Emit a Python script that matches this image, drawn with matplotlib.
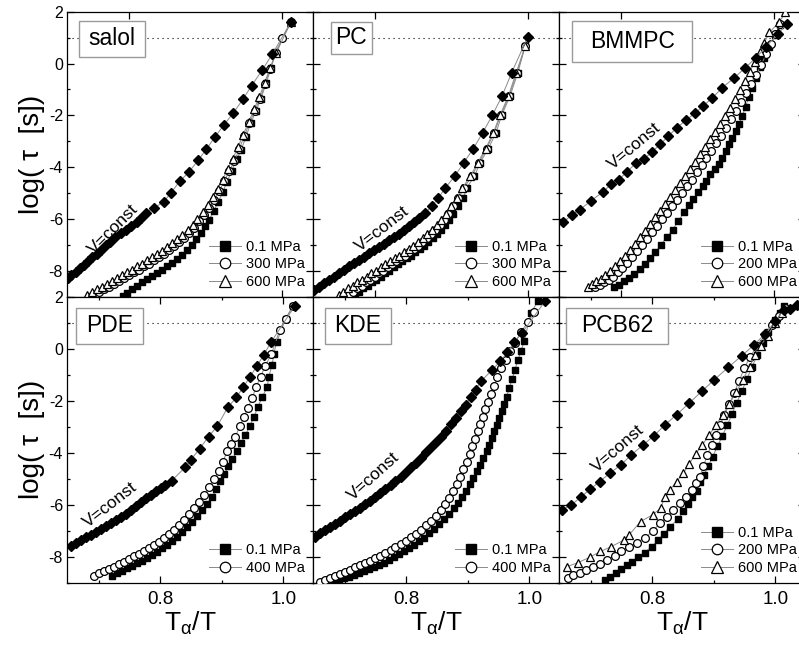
import numpy as np
import matplotlib
matplotlib.use("Agg")
import matplotlib.pyplot as plt
from matplotlib.patches import Rectangle
from matplotlib.ticker import MultipleLocator, FixedLocator, NullLocator

plt.rcParams['font.family'] = ['Liberation Sans', 'DejaVu Sans']
plt.rcParams['axes.unicode_minus'] = False
plt.rcParams['mathtext.fontset'] = 'custom'
plt.rcParams['mathtext.rm'] = 'Liberation Sans'
plt.rcParams['mathtext.it'] = 'Liberation Sans'

# ---------------- data: x = Talpha/T, y = log(tau [s]) ----------------
# salol
salol_v_x = [0.7205, 0.725, 0.731, 0.736, 0.741, 0.747, 0.752, 0.758, 0.763, 0.770, 0.775, 0.782,
             0.789, 0.796, 0.803, 0.810, 0.816, 0.822, 0.832, 0.845, 0.855, 0.866, 0.878, 0.890,
             0.901, 0.912, 0.924, 0.936, 0.949, 0.960, 0.974, 0.987, 1.0113]
salol_v_y = [-8.28, -8.15, -8.03, -7.90, -7.77, -7.64, -7.47, -7.34, -7.19, -7.02, -6.87, -6.70,
             -6.54, -6.42, -6.29, -6.13, -5.97, -5.77, -5.58, -5.35, -4.98, -4.55, -4.19, -3.74,
             -3.30, -2.84, -2.36, -1.91, -1.36, -0.85, -0.24, 0.37, 1.61]
salol_p1_x = [0.7922, 0.7978, 0.8035, 0.810, 0.8166, 0.8231, 0.8296, 0.8362, 0.8427, 0.8492,
              0.8558, 0.8623, 0.8688, 0.8754, 0.8819, 0.888, 0.8937, 0.8993, 0.9046, 0.9102,
              0.9163, 0.922, 0.9277, 0.9338, 0.9403, 0.9464, 0.9525, 0.9586, 0.9656, 0.9721,
              0.9787, 0.985, 0.9908, 1.0113]
salol_p1_y = [-8.97, -8.84, -8.71, -8.58, -8.45, -8.32, -8.19, -8.09, -7.96, -7.83, -7.70, -7.55,
              -7.38, -7.19, -6.99, -6.77, -6.54, -6.28, -6.03, -5.70, -5.34, -4.97, -4.58, -4.15,
              -3.70, -3.32, -2.83, -2.31, -1.83, -1.35, -0.77, -0.19, 0.43, 1.61]
salol_p2_x = [0.7556, 0.7608, 0.7673, 0.7739, 0.7804, 0.7869, 0.7935, 0.800, 0.8065, 0.8131,
              0.8196, 0.8261, 0.8327, 0.8392, 0.8458, 0.8523, 0.8588, 0.8654, 0.8719, 0.8784,
              0.885, 0.8915, 0.898, 0.9046, 0.9111, 0.9176, 0.9242, 0.9307, 0.9373, 0.9438,
              0.9503, 0.9569, 0.9638, 0.9708, 0.9773, 0.9839, 0.9917, 1.0, 1.0113]
salol_p2_y = [-8.93, -8.81, -8.71, -8.61, -8.50, -8.39, -8.28, -8.17, -8.06, -7.96, -7.83, -7.73,
              -7.60, -7.48, -7.35, -7.21, -7.06, -6.90, -6.74, -6.54, -6.35, -6.09, -5.83, -5.57,
              -5.25, -4.93, -4.54, -4.15, -3.77, -3.29, -2.80, -2.31, -1.83, -1.35, -0.80, -0.22,
              0.39, 0.97, 1.61]
salol_p3_x = [0.7455, 0.7521, 0.7586, 0.7651, 0.7717, 0.7782, 0.7847, 0.7913, 0.7978, 0.8044,
              0.8109, 0.8174, 0.824, 0.8305, 0.837, 0.8436, 0.8501, 0.8566, 0.8632, 0.8697,
              0.8763, 0.8828, 0.8893, 0.8959, 0.9024, 0.909, 0.9155, 0.922, 0.9285, 0.935,
              0.942, 0.949, 0.956, 0.963, 0.970, 0.9769, 0.9839, 0.9917, 1.0113]
salol_p3_y = [-8.93, -8.81, -8.71, -8.61, -8.50, -8.39, -8.28, -8.18, -8.06, -7.96, -7.83, -7.73,
              -7.60, -7.48, -7.35, -7.23, -7.08, -6.93, -6.77, -6.61, -6.41, -6.22, -5.99, -5.73,
              -5.45, -5.15, -4.83, -4.48, -4.09, -3.70, -3.23, -2.74, -2.26, -1.77, -1.28, -0.74,
              -0.17, 0.40, 1.61]

# PC
pc_v_x = [0.7204, 0.727, 0.7335, 0.740, 0.7465, 0.753, 0.7596, 0.7661, 0.7726, 0.7791, 0.7857,
          0.7922, 0.7987, 0.8052, 0.8117, 0.8183, 0.8248, 0.8313, 0.8378, 0.8443, 0.8513, 0.8578,
          0.8652, 0.8739, 0.8826, 0.8917, 0.9039, 0.9157, 0.9283, 0.9404, 0.953, 0.9657, 0.9783,
          0.9991]
pc_v_y = [-8.74, -8.61, -8.48, -8.35, -8.22, -8.09, -7.96, -7.83, -7.70, -7.57, -7.45, -7.32,
          -7.19, -7.07, -6.95, -6.83, -6.70, -6.58, -6.44, -6.28, -6.13, -5.96, -5.77, -5.51,
          -5.19, -4.80, -4.35, -3.83, -3.28, -2.67, -2.00, -1.25, -0.35, 1.03]
pc_p1_x = [0.7739, 0.7791, 0.7848, 0.7904, 0.7961, 0.8017, 0.8074, 0.813, 0.8187, 0.8243, 0.830,
           0.8357, 0.8413, 0.847, 0.8526, 0.8583, 0.8639, 0.8696, 0.8752, 0.8804, 0.8857, 0.8913,
           0.897, 0.9022, 0.9087, 0.9152, 0.9196, 0.9296, 0.937, 0.9478, 0.9578, 0.9652, 0.9761,
           0.9861, 0.9957]
pc_p1_y = [-8.94, -8.81, -8.68, -8.57, -8.45, -8.34, -8.22, -8.10, -7.99, -7.87, -7.75, -7.64,
           -7.52, -7.41, -7.29, -7.16, -7.03, -6.89, -6.74, -6.58, -6.41, -6.22, -6.03, -5.79,
           -5.51, -5.19, -4.80, -4.35, -3.83, -3.28, -2.67, -2.00, -1.25, -0.37, 0.66]
pc_p2_x = [0.7657, 0.7713, 0.777, 0.7826, 0.7883, 0.7939, 0.7996, 0.8052, 0.8109, 0.8165, 0.8222,
           0.8278, 0.8335, 0.8391, 0.8448, 0.8504, 0.8561, 0.8617, 0.8674, 0.873, 0.8787, 0.8843,
           0.890, 0.8957, 0.9022, 0.9087, 0.9161, 0.9261, 0.9352, 0.9457, 0.9552, 0.9639, 0.9748,
           0.9848, 0.9957]
pc_p2_y = pc_p1_y
pc_p3_x = [0.7526, 0.7587, 0.7648, 0.7709, 0.777, 0.783, 0.7891, 0.7952, 0.8013, 0.8074, 0.8135,
           0.8196, 0.8257, 0.8317, 0.8378, 0.8439, 0.850, 0.8561, 0.8622, 0.8683, 0.8743, 0.8804,
           0.8865, 0.8926, 0.8996, 0.9065, 0.9139, 0.9243, 0.9339, 0.9443, 0.9543, 0.963, 0.9739,
           0.9839, 0.9957]
pc_p3_y = pc_p1_y

# BMMPC
bm_v_x = [0.7244, 0.7365, 0.7464, 0.7611, 0.7767, 0.7875, 0.797, 0.8078, 0.8199, 0.8294, 0.8402,
          0.851, 0.8618, 0.8726, 0.8847, 0.8963, 0.9071, 0.9192, 0.9322, 0.9469, 0.9611, 0.9762,
          0.9892, 1.0043, 1.0164]
bm_v_y = [-6.13, -5.83, -5.64, -5.29, -4.95, -4.65, -4.48, -4.18, -3.83, -3.70, -3.41, -3.12,
          -2.80, -2.48, -2.19, -1.92, -1.64, -1.32, -0.93, -0.57, -0.19, 0.23, 0.65, 1.14, 1.52]
bm_p1_x = [0.7905, 0.797, 0.8043, 0.8108, 0.8173, 0.8251, 0.8315, 0.838, 0.8445, 0.8523, 0.8596,
           0.8674, 0.8747, 0.8821, 0.8886, 0.8942, 0.9006, 0.9063, 0.9114, 0.9166, 0.9222, 0.9274,
           0.9322, 0.9365, 0.9408, 0.9451, 0.9495, 0.9538, 0.9581, 0.9624, 0.9667, 0.9711, 0.9762,
           0.9814, 0.987, 0.9927, 1.0013, 1.0073]
bm_p1_y = [-8.63, -8.54, -8.41, -8.28, -8.12, -7.94, -7.73, -7.51, -7.29, -6.99, -6.70, -6.41,
           -6.09, -5.74, -5.45, -5.23, -4.97, -4.74, -4.52, -4.28, -4.09, -3.87, -3.64, -3.38,
           -3.12, -2.86, -2.61, -2.32, -2.03, -1.66, -1.28, -0.93, -0.54, -0.15, 0.23, 0.65,
           1.10, 1.48]
bm_p2_x = [0.7667, 0.7732, 0.7784, 0.784, 0.7896, 0.7957, 0.8013, 0.8078, 0.8143, 0.8207, 0.8272,
           0.8337, 0.8402, 0.8467, 0.8531, 0.8596, 0.8661, 0.8726, 0.879, 0.8855, 0.892, 0.8985,
           0.905, 0.9114, 0.9179, 0.9244, 0.9309, 0.9374, 0.9438, 0.9503, 0.9568, 0.9633, 0.9698,
           0.9762, 0.9827, 0.9892, 0.9957, 1.0013, 1.0073]
bm_p2_y = [-8.63, -8.54, -8.45, -8.35, -8.22, -8.06, -7.90, -7.70, -7.47, -7.25, -7.02, -6.76,
           -6.52, -6.26, -6.00, -5.77, -5.51, -5.25, -4.99, -4.74, -4.48, -4.19, -3.92, -3.64,
           -3.38, -3.08, -2.80, -2.48, -2.15, -1.83, -1.48, -1.15, -0.80, -0.45, -0.06, 0.36,
           0.75, 1.14, 1.52]
bm_p3_x = [0.7568, 0.7624, 0.768, 0.7741, 0.7797, 0.7862, 0.7927, 0.7991, 0.8056, 0.8121, 0.8186,
           0.8251, 0.8315, 0.838, 0.8445, 0.851, 0.8575, 0.8639, 0.8704, 0.8769, 0.8834, 0.8898,
           0.8963, 0.9028, 0.9093, 0.9158, 0.9222, 0.9287, 0.9352, 0.9417, 0.9482, 0.9546, 0.9611,
           0.9676, 0.9741, 0.9806, 0.987, 0.9935, 1.0065, 1.0143]
bm_p3_y = [-8.61, -8.52, -8.41, -8.30, -8.17, -8.01, -7.83, -7.64, -7.42, -7.19, -6.95, -6.71,
           -6.45, -6.19, -5.94, -5.68, -5.42, -5.16, -4.89, -4.62, -4.35, -4.06, -3.79, -3.51,
           -3.23, -2.93, -2.65, -2.35, -2.03, -1.70, -1.38, -1.02, -0.67, -0.32, 0.04, 0.43,
           0.81, 1.20, 1.61, 1.97]

# PDE
pde_v_x = [0.6541, 0.6623, 0.6705, 0.6786, 0.6863, 0.6944, 0.7026, 0.7108, 0.719, 0.7271, 0.7353,
           0.7435, 0.7516, 0.7598, 0.768, 0.7761, 0.7843, 0.7925, 0.8007, 0.8077, 0.8186, 0.8404,
           0.8497, 0.8638, 0.8785, 0.8922, 0.9096, 0.9237, 0.9346, 0.9455, 0.9575, 0.9684,
           0.9804, 1.0185]
pde_v_y = [-7.57, -7.46, -7.36, -7.25, -7.15, -7.05, -6.94, -6.83, -6.71, -6.58, -6.47, -6.34,
           -6.20, -6.06, -5.91, -5.76, -5.62, -5.48, -5.35, -5.24, -5.07, -4.56, -4.27, -3.85,
           -3.38, -2.99, -2.26, -1.87, -1.49, -1.10, -0.65, -0.23, 0.26, 1.63]
pde_p1_x = [0.7206, 0.7288, 0.7369, 0.7451, 0.7533, 0.7614, 0.7696, 0.7778, 0.7859, 0.7941,
            0.8023, 0.8105, 0.8186, 0.8268, 0.835, 0.8431, 0.8513, 0.8595, 0.8676, 0.8758, 0.884,
            0.8911, 0.8976, 0.9041, 0.9101, 0.9167, 0.9248, 0.9314, 0.9385, 0.9455, 0.9521,
            0.9586, 0.9657, 0.9739, 0.9766, 0.982, 0.9847, 0.9891, 1.0038, 1.0163]
pde_p1_y = [-8.74, -8.64, -8.54, -8.45, -8.34, -8.25, -8.15, -8.04, -7.93, -7.81, -7.68, -7.55,
            -7.39, -7.23, -7.05, -6.86, -6.66, -6.44, -6.21, -5.97, -5.70, -5.40, -5.08, -4.83,
            -4.53, -4.25, -3.95, -3.63, -3.31, -2.99, -2.63, -2.26, -1.86, -1.48, -1.07, -0.62,
            -0.19, 0.24, 1.14, 1.66]
pde_p2_x = [0.6917, 0.6999, 0.7081, 0.7162, 0.7244, 0.7326, 0.7407, 0.7489, 0.7571, 0.7652,
            0.7734, 0.7816, 0.7898, 0.7979, 0.8061, 0.8143, 0.8224, 0.8306, 0.8388, 0.847, 0.8551,
            0.8633, 0.8715, 0.8796, 0.8878, 0.8954, 0.902, 0.9085, 0.915, 0.9221, 0.9292, 0.9357,
            0.9423, 0.9493, 0.9559, 0.963, 0.9711, 0.9809, 0.9946, 1.0038, 1.0163]
pde_p2_y = [-8.73, -8.64, -8.55, -8.47, -8.38, -8.28, -8.19, -8.09, -7.99, -7.89, -7.78, -7.68,
            -7.55, -7.42, -7.29, -7.14, -6.97, -6.78, -6.59, -6.37, -6.14, -5.91, -5.64, -5.33,
            -5.02, -4.69, -4.34, -3.95, -3.66, -3.38, -2.99, -2.63, -2.29, -1.90, -1.48, -1.07,
            -0.65, -0.19, 0.73, 1.14, 1.66]

# KDE
kde_v_x = [0.6514, 0.6596, 0.6678, 0.6759, 0.6841, 0.6923, 0.7004, 0.7086, 0.7168, 0.725, 0.7331,
           0.7413, 0.7495, 0.7576, 0.7658, 0.774, 0.7821, 0.7903, 0.7985, 0.8066, 0.8148, 0.823,
           0.8312, 0.8393, 0.8475, 0.8557, 0.8638, 0.872, 0.8802, 0.8883, 0.8965, 0.9047, 0.9129,
           0.921, 0.939, 0.9526, 0.9646, 0.9755, 0.988, 1.0256]
kde_v_y = [-7.23, -7.10, -6.97, -6.85, -6.74, -6.61, -6.48, -6.37, -6.24, -6.11, -5.98, -5.84,
           -5.70, -5.56, -5.40, -5.25, -5.08, -4.92, -4.74, -4.56, -4.38, -4.20, -3.99, -3.79,
           -3.58, -3.38, -3.15, -2.90, -2.67, -2.41, -2.16, -1.87, -1.58, -1.26, -0.83, -0.49,
           -0.14, 0.24, 0.60, 1.82]
kde_p1_x = [0.6814, 0.6895, 0.6977, 0.7059, 0.714, 0.7222, 0.7304, 0.7386, 0.7467, 0.7549, 0.7631,
            0.7712, 0.7794, 0.7876, 0.7958, 0.8039, 0.8121, 0.8203, 0.8284, 0.8366, 0.8448, 0.8529,
            0.8611, 0.8693, 0.8775, 0.8845, 0.8911, 0.8976, 0.9036, 0.909, 0.9145, 0.9199, 0.9254,
            0.9308, 0.9352, 0.939, 0.9434, 0.9472, 0.951, 0.9553, 0.9592, 0.9635, 0.9673, 0.9722,
            0.9766, 0.9815, 0.9864, 0.9918, 1.0027, 1.0136]
kde_p1_y = [-8.96, -8.90, -8.83, -8.77, -8.70, -8.64, -8.56, -8.49, -8.41, -8.32, -8.23, -8.13,
            -8.02, -7.91, -7.79, -7.68, -7.55, -7.41, -7.27, -7.10, -6.93, -6.75, -6.56, -6.35,
            -6.14, -5.92, -5.69, -5.46, -5.21, -4.96, -4.72, -4.47, -4.21, -3.95, -3.70, -3.44,
            -3.18, -2.93, -2.67, -2.39, -2.12, -1.84, -1.51, -1.17, -0.81, -0.45, -0.10, 0.28,
            1.37, 1.82]
kde_p2_x = [0.6596, 0.6678, 0.6759, 0.6841, 0.6923, 0.7004, 0.7086, 0.7168, 0.725, 0.7331, 0.7413,
            0.7495, 0.7576, 0.7658, 0.774, 0.7821, 0.7903, 0.7985, 0.8066, 0.8148, 0.823, 0.8312,
            0.8393, 0.8475, 0.8557, 0.8627, 0.8693, 0.8758, 0.8818, 0.8873, 0.8927, 0.8981, 0.9031,
            0.9074, 0.9118, 0.9161, 0.9199, 0.9243, 0.9287, 0.933, 0.9374, 0.9428, 0.9483, 0.9548,
            0.9619, 0.969, 0.9766, 0.9864, 0.9973, 1.0082]
kde_p2_y = [-8.96, -8.88, -8.81, -8.73, -8.65, -8.57, -8.50, -8.41, -8.33, -8.24, -8.15, -8.06,
            -7.96, -7.86, -7.74, -7.63, -7.51, -7.38, -7.25, -7.11, -6.96, -6.79, -6.61, -6.42,
            -6.20, -5.97, -5.73, -5.47, -5.20, -4.92, -4.63, -4.34, -4.04, -3.76, -3.48, -3.18,
            -2.89, -2.61, -2.32, -2.04, -1.76, -1.42, -1.09, -0.74, -0.42, -0.10, 0.22, 0.63,
            1.01, 1.40]

# PCB62
pcb_v_x = [0.6525, 0.6678, 0.683, 0.6988, 0.7141, 0.7304, 0.7484, 0.7658, 0.7838, 0.8023, 0.8203,
           0.8393, 0.860, 0.8802, 0.9009, 0.9237, 0.9455, 0.9657, 0.9837, 1.0, 1.0136, 1.0245,
           1.0354]
pcb_v_y = [-6.20, -6.01, -5.71, -5.40, -5.11, -4.79, -4.47, -4.08, -3.72, -3.35, -2.93, -2.54,
           -2.09, -1.64, -1.19, -0.71, -0.27, 0.15, 0.58, 1.05, 1.48, 1.53, 1.69]
pcb_p1_x = [0.7222, 0.7304, 0.7402, 0.7495, 0.7587, 0.7674, 0.7767, 0.7876, 0.7985, 0.8094,
            0.8186, 0.8284, 0.842, 0.8502, 0.8584, 0.8649, 0.872, 0.8775, 0.884, 0.8911, 0.8981,
            0.9058, 0.9139, 0.9221, 0.9297, 0.9374, 0.9455, 0.9537, 0.9619, 0.9711, 0.9793,
            0.988, 1.0, 1.0082, 1.0147]
pcb_p1_y = [-8.90, -8.77, -8.61, -8.49, -8.33, -8.19, -8.02, -7.84, -7.61, -7.36, -7.12, -6.84,
            -6.56, -6.26, -5.97, -5.71, -5.46, -5.13, -4.85, -4.51, -4.15, -3.76, -3.35, -2.93,
            -2.50, -2.07, -1.64, -1.17, -0.71, -0.23, 0.22, 0.63, 1.09, 1.37, 1.66]
pcb_p2_x = [0.6623, 0.6705, 0.6814, 0.6923, 0.7032, 0.7151, 0.7266, 0.7386, 0.7495, 0.762, 0.774,
            0.7876, 0.8001, 0.8121, 0.8241, 0.8339, 0.8448, 0.8546, 0.8638, 0.8709, 0.8775,
            0.8829, 0.8894, 0.8965, 0.9036, 0.9101, 0.9172, 0.9254, 0.933, 0.9412, 0.9499,
            0.9592, 0.970, 0.9837, 0.9946, 1.0054, 1.0163]
pcb_p2_y = [-8.83, -8.70, -8.61, -8.51, -8.38, -8.28, -8.13, -7.96, -7.80, -7.61, -7.46, -7.27,
            -7.03, -6.71, -6.46, -6.20, -5.94, -5.69, -5.43, -5.17, -4.92, -4.53, -4.08, -3.70,
            -3.31, -2.93, -2.54, -2.12, -1.71, -1.23, -0.74, -0.30, 0.09, 0.54, 0.92, 1.25, 1.57]
pcb_p3_x = [0.6607, 0.6787, 0.6977, 0.7151, 0.7331, 0.7533, 0.762, 0.7805, 0.8001, 0.8132, 0.8203,
            0.8284, 0.8393, 0.8502, 0.860, 0.8704, 0.8813, 0.8927, 0.9036, 0.9145, 0.9254, 0.9363,
            0.9472, 0.9581, 0.9673, 0.9766, 0.9875, 1.0, 1.0109]
pcb_p3_y = [-8.38, -8.23, -8.02, -7.80, -7.61, -7.36, -7.16, -6.65, -6.39, -6.14, -5.69, -5.43,
            -5.11, -4.79, -4.43, -4.04, -3.70, -3.31, -2.93, -2.54, -2.12, -1.68, -1.19, -0.71,
            -0.23, 0.12, 0.50, 0.99, 1.37]

panel_names = ["salol", "PC", "BMMPC", "PDE", "KDE", "PCB62"]
pressure_labels = [["0.1 MPa", "300 MPa", "600 MPa"],
                   ["0.1 MPa", "300 MPa", "600 MPa"],
                   ["0.1 MPa", "200 MPa", "600 MPa"],
                   ["0.1 MPa", "400 MPa"],
                   ["0.1 MPa", "400 MPa"],
                   ["0.1 MPa", "200 MPa", "600 MPa"]]
vconst_data = [(salol_v_x, salol_v_y), (pc_v_x, pc_v_y), (bm_v_x, bm_v_y),
               (pde_v_x, pde_v_y), (kde_v_x, kde_v_y), (pcb_v_x, pcb_v_y)]
pressure_data = [
    [(salol_p1_x, salol_p1_y), (salol_p2_x, salol_p2_y), (salol_p3_x, salol_p3_y)],
    [(pc_p1_x, pc_p1_y), (pc_p2_x, pc_p2_y), (pc_p3_x, pc_p3_y)],
    [(bm_p1_x, bm_p1_y), (bm_p2_x, bm_p2_y), (bm_p3_x, bm_p3_y)],
    [(pde_p1_x, pde_p1_y), (pde_p2_x, pde_p2_y)],
    [(kde_p1_x, kde_p1_y), (kde_p2_x, kde_p2_y)],
    [(pcb_p1_x, pcb_p1_y), (pcb_p2_x, pcb_p2_y), (pcb_p3_x, pcb_p3_y)],
]

# ---------------- layout ----------------
fig = plt.figure(figsize=(7.99, 6.47), dpi=100)
lefts = [0.0842, 0.3921, 0.7000]
width = 0.3079
rows = [(0.5414, 0.4405), (0.0994, 0.4420)]
xlims = [(0.7195, 1.0403), (0.6482, 1.049)]

# label box extents in axes fraction: x0, x1, y0, y1
boxes = [(0.048, 0.316, 0.842, 0.968), (0.073, 0.237, 0.851, 0.965), (0.053, 0.541, 0.825, 0.969),
         (0.035, 0.307, 0.835, 0.962), (0.046, 0.317, 0.835, 0.962), (0.028, 0.443, 0.835, 0.962)]
# V=const annotation: position (data) and screen rotation
vtext = [(0.779, -6.40, 45), (0.809, -6.40, 38), (0.8177, -3.18, 40),
         (0.7178, -6.00, 38), (0.7467, -4.90, 42), (0.744, -3.84, 41)]

styles = [dict(marker='s', mfc='black', mec='black', ms=5.0),
          dict(marker='o', mfc='white', mec='black', ms=5.6, mew=0.9),
          dict(marker='^', mfc='white', mec='black', ms=6.2, mew=0.9)]
line_kw = dict(color='#8a8a8a', lw=0.7)

for i in range(6):
    r, c = divmod(i, 3)
    bottom, height = rows[r]
    ax = fig.add_axes([lefts[c], bottom, width, height])
    ax.set_xlim(*xlims[r])
    ax.set_ylim(-9, 2)

    ax.axhline(1, color='black', lw=0.8, ls=(0, (1, 3.5)), zorder=1)

    handles = []
    for k, (xs, ys) in enumerate(pressure_data[i]):
        h, = ax.plot(xs, ys, **line_kw, **styles[k], zorder=3, label=pressure_labels[i][k])
        handles.append(h)
    vx, vy = vconst_data[i]
    ax.plot(vx, vy, **line_kw, marker='D', mfc='black', mec='black', ms=4.6, zorder=4)

    tx, ty, rot = vtext[i]
    ax.text(tx, ty, "V=const", rotation=rot, rotation_mode='anchor', ha='center', va='center',
            fontsize=12.5)

    x0, x1, y0, y1 = boxes[i]
    ax.add_patch(Rectangle((x0, y0), x1 - x0, y1 - y0, transform=ax.transAxes,
                           facecolor='white', edgecolor='#9a9a9a', lw=1.0, zorder=5))
    ax.text((x0 + x1) / 2, (y0 + y1) / 2, panel_names[i], transform=ax.transAxes,
            ha='center', va='center', fontsize=16.5, zorder=6)

    ax.legend(handles=handles, loc='lower right', frameon=False, fontsize=10.5,
              handlelength=2.2, handletextpad=0.35, labelspacing=0.22,
              borderaxespad=0.35, markerscale=1.35, borderpad=0.2)

    # ticks
    ax.yaxis.set_major_locator(MultipleLocator(2))
    ax.yaxis.set_minor_locator(MultipleLocator(1))
    ax.xaxis.set_major_locator(FixedLocator([0.8, 1.0]))
    if r == 1:
        ax.xaxis.set_minor_locator(FixedLocator([0.7, 0.9]))
    else:
        ax.xaxis.set_minor_locator(NullLocator())
    ax.tick_params(which='both', direction='in', top=True, right=True, width=0.9)
    ax.tick_params(which='major', length=5)
    ax.tick_params(which='minor', length=2.5)
    ax.tick_params(axis='y', labelsize=11.5, pad=3)
    ax.tick_params(axis='x', labelsize=13.5, pad=6)
    ax.xaxis.set_major_formatter(plt.FuncFormatter(lambda v, p: f"{v:.1f}"))
    for s in ax.spines.values():
        s.set_linewidth(0.9)

    if c != 0:
        ax.tick_params(axis='y', labelleft=False)
    else:
        ax.set_ylabel("log( τ  [s])", fontsize=20, labelpad=3)
    if r == 0:
        ax.tick_params(axis='x', labelbottom=False)
    else:
        ax.set_xlabel(r"T$_{\alpha}$/T", fontsize=19, labelpad=1)

fig.savefig("out.png", dpi=100)
